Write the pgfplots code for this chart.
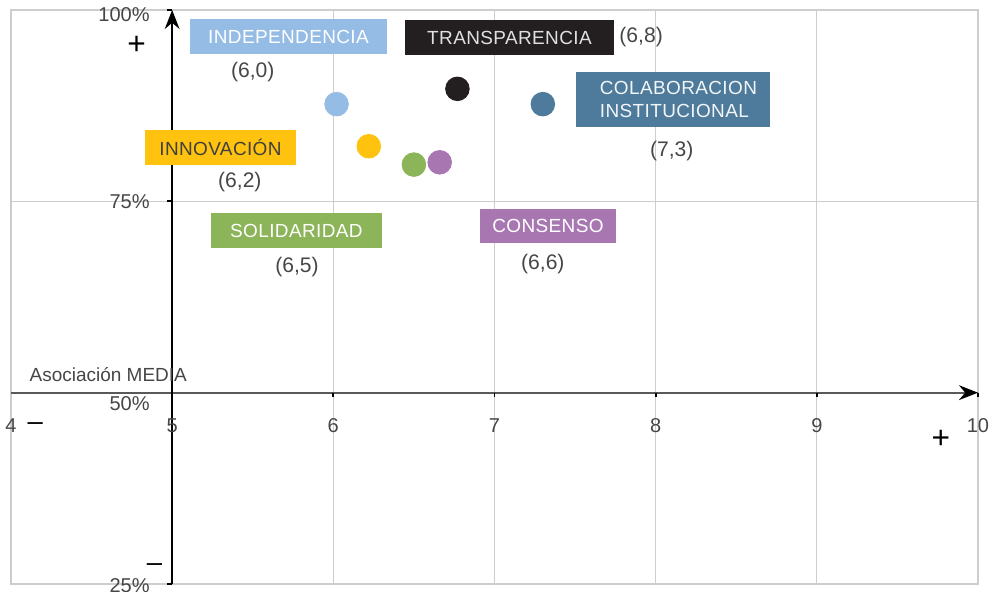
\documentclass[border=0pt]{standalone}
\usepackage{fontspec}
\setmainfont{Liberation Sans}
\newfontfamily\lbl[LetterSpace=2]{Liberation Sans}
\usepackage{pgfplots}
\pgfplotsset{compat=1.18}
\usetikzlibrary{arrows.meta}
\definecolor{cIndep}{RGB}{148,188,229}
\definecolor{cTransp}{RGB}{35,31,32}
\definecolor{cColab}{RGB}{78,123,155}
\definecolor{cInnov}{RGB}{255,194,14}
\definecolor{cSolid}{RGB}{140,180,88}
\definecolor{cCons}{RGB}{168,119,178}
\definecolor{gridgray}{RGB}{205,205,205}
\definecolor{txtgray}{RGB}{70,70,70}

\begin{document}
\begin{tikzpicture}
\begin{axis}[
    width=16.117cm, height=9.567cm, scale only axis,
    xmin=4, xmax=10, ymin=25, ymax=100,
    xtick={4,...,10}, ytick={25,50,75,100},
    xticklabels={}, yticklabels={},
    major tick length=0pt,
    grid=major,
    grid style={draw=gridgray, line width=0.6pt},
    axis line style={draw=gridgray, line width=0.6pt},
    clip=false,
    every axis plot/.append style={only marks, mark=*, mark size=5.6pt}
]
% (media, porcentaje)
\addplot[mark options={fill=cIndep, draw=cIndep}] coordinates {(6.02,87.7)};
\addplot[mark options={fill=cTransp, draw=cTransp}] coordinates {(6.77,89.7)};
\addplot[mark options={fill=cColab, draw=cColab}] coordinates {(7.30,87.7)};
\addplot[mark options={fill=cInnov, draw=cInnov}] coordinates {(6.22,82.2)};
\addplot[mark options={fill=cSolid, draw=cSolid}] coordinates {(6.50,79.8)};
\addplot[mark options={fill=cCons, draw=cCons}] coordinates {(6.66,80.1)};

% central axes
\draw[black!65, line width=0.9pt, -{Stealth[length=9pt,width=7pt,black]}] (axis cs:4,50) -- (axis cs:10,50);
\draw[black, line width=0.8pt, -{Stealth[length=9pt,width=7pt]}] (axis cs:5,25) -- (axis cs:5,100);
\pgfplotsinvokeforeach{5,...,10}{\draw[black, line width=0.8pt] (axis cs:#1,50) -- ++(0pt,-2pt);}
\pgfplotsinvokeforeach{25,75,100}{\draw[black, line width=0.8pt] (axis cs:5,#1) -- ++(-2.5pt,0pt);}

% tick labels
\pgfplotsinvokeforeach{4,...,10}{
  \node[txtgray, font=\fontsize{9.5}{11}\selectfont] at ([yshift=-0.55cm]axis cs:#1,50) {#1};}
\tikzset{ylab/.style={txtgray, anchor=east, font=\fontsize{9.5}{11}\selectfont}}
\node[ylab] at ([xshift=-0.25cm, yshift=-0.07cm]axis cs:5,100) {100\%};
\node[ylab] at ([xshift=-0.25cm]axis cs:5,75) {75\%};
\node[ylab] at ([xshift=-0.25cm, yshift=-0.18cm]axis cs:5,50) {50\%};
\node[ylab] at ([xshift=-0.25cm, yshift=-0.03cm]axis cs:5,25) {25\%};

\node[anchor=west, txtgray, font=\fontsize{9}{11}\selectfont] at (axis cs:4.07,52.3) {Asociación MEDIA};
\node[font=\fontsize{15}{16}\selectfont] at (axis cs:4.78,95.4) {+};
\node[font=\fontsize{15}{16}\selectfont] at (axis cs:9.77,43.9) {+};
\node[font=\fontsize{13}{14}\selectfont] at (axis cs:4.15,45.6) {--};
\node[font=\fontsize{13}{14}\selectfont] at (axis cs:4.89,27.1) {--};

% category boxes
\tikzset{cat/.style={inner sep=0pt, font=\lbl\fontsize{9}{11}\selectfont},
         val/.style={txtgray, font=\fontsize{10}{12}\selectfont}}
\node[cat, fill=cIndep, text=white, minimum width=3.283cm, minimum height=0.583cm] at (axis cs:5.722,96.54) {INDEPENDENCIA};
\node[val] at (axis cs:5.50,91.9) {(6,0)};
\node[cat, fill=cTransp, text=black!12, minimum width=3.483cm, minimum height=0.583cm] at (axis cs:7.093,96.41) {TRANSPARENCIA};
\node[val] at (axis cs:7.91,96.47) {(6,8)};
\node[cat, fill=cColab, text=white!92!cColab, inner xsep=0.4cm, text width=2.433cm, minimum height=0.917cm, align=left] at (axis cs:8.107,88.31) {COLABORACION\\INSTITUCIONAL};
\node[val] at (axis cs:8.10,81.6) {(7,3)};
\node[cat, fill=cInnov, text=black!75, minimum width=2.517cm, minimum height=0.583cm] at (axis cs:5.300,82.03) {INNOVACIÓN};
\node[val] at (axis cs:5.42,77.5) {(6,2)};
\node[cat, fill=cSolid, text=white, minimum width=2.85cm, minimum height=0.583cm] at (axis cs:5.771,71.19) {SOLIDARIDAD};
\node[val] at (axis cs:5.775,66.4) {(6,5)};
\node[cat, fill=cCons, text=white, minimum width=2.267cm, minimum height=0.567cm] at (axis cs:7.332,71.78) {CONSENSO};
\node[val] at (axis cs:7.30,66.8) {(6,6)};

\coordinate (bl) at (rel axis cs:0,0);
\coordinate (tr) at (rel axis cs:1,1);
\end{axis}
\pgfresetboundingbox
\path[use as bounding box] ([xshift=-0.183cm, yshift=-0.133cm]bl) rectangle ([xshift=0.267cm, yshift=0.167cm]tr);
\end{tikzpicture}
\end{document}
